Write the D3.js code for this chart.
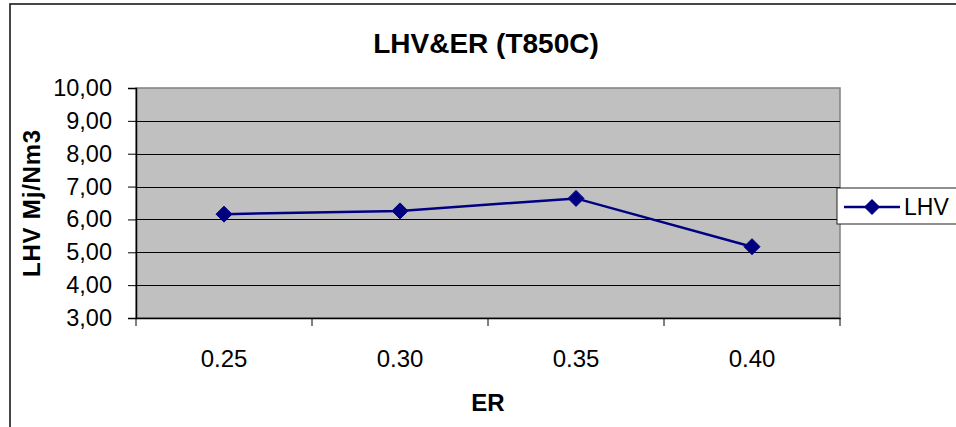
<!DOCTYPE html>
<html>
<head>
<meta charset="utf-8">
<script src="https://cdn.jsdelivr.net/npm/d3@7"></script>
<style>
  html, body { margin: 0; padding: 0; background: #fff; }
  svg { display: block; font-family: "Liberation Sans", Arial, sans-serif; }
</style>
</head>
<body>
<svg id="chart" width="956" height="427"></svg>
<script>
const categories = ["0.25", "0.30", "0.35", "0.40"];
const lhvValues = [6.16, 6.26, 6.64, 5.17];
const yTicks = [3, 4, 5, 6, 7, 8, 9, 10];
const seriesName = "LHV";
const chartTitle = "LHV&ER (T850C)";
const xTitle = "ER";
const yTitle = "LHV Mj/Nm3";

const svg = d3.select("#chart");
const plot = { left: 136, top: 88, right: 840, bottom: 318 };
const navy = "#000080";

// outer chart border
svg.append("rect").attr("x", 10).attr("y", 4).attr("width", 960).attr("height", 440)
  .attr("fill", "#fff").attr("stroke", "#1a1a1a").attr("stroke-width", 1.6);

const x = d3.scaleBand().domain(categories).range([plot.left, plot.right]).paddingInner(0).paddingOuter(0);
const y = d3.scaleLinear().domain([3, 10]).range([plot.bottom, plot.top]);

// plot background
svg.append("rect").attr("x", plot.left).attr("y", plot.top)
  .attr("width", plot.right - plot.left).attr("height", plot.bottom - plot.top)
  .attr("fill", "#c0c0c0").attr("stroke", "#808080").attr("stroke-width", 1.5);

// gridlines
svg.append("g").selectAll("line").data(yTicks.filter(d => d !== 3 && d !== 10)).join("line")
  .attr("x1", plot.left).attr("x2", plot.right)
  .attr("y1", d => Math.round(y(d)) + 0.5).attr("y2", d => Math.round(y(d)) + 0.5)
  .attr("stroke", "#000").attr("stroke-width", 1);

// y axis
const yAxis = d3.axisLeft(y).tickValues(yTicks).tickSize(8).tickPadding(16)
  .tickFormat(d => d3.format(".2f")(d).replace(".", ","));
const gy = svg.append("g").attr("transform", `translate(${plot.left},0)`).call(yAxis);
gy.select(".domain").attr("stroke", "#000").attr("stroke-width", 1.5);
gy.selectAll(".tick line").attr("stroke", "#000").attr("stroke-width", 1);
gy.selectAll(".tick text").attr("font-size", 23.5).attr("fill", "#000")
  .attr("font-family", "Liberation Sans, Arial, sans-serif");

// x axis with ticks at category boundaries
const xAxis = d3.axisBottom(x).tickSize(0).tickPadding(32);
const gx = svg.append("g").attr("transform", `translate(0,${plot.bottom})`).call(xAxis);
gx.select(".domain").attr("stroke", "#000").attr("stroke-width", 1.5);
gx.selectAll(".tick text").attr("font-size", 24).attr("fill", "#000")
  .attr("font-family", "Liberation Sans, Arial, sans-serif");
const boundaries = categories.map(c => x(c)).concat([x(categories[categories.length - 1]) + x.bandwidth()]);
svg.append("g").selectAll("line").data(boundaries).join("line")
  .attr("x1", d => d).attr("x2", d => d)
  .attr("y1", plot.bottom).attr("y2", plot.bottom + 8)
  .attr("stroke", "#000").attr("stroke-width", 1);

// line series
const cx = c => x(c) + x.bandwidth() / 2;
const line = d3.line().x((d, i) => cx(categories[i])).y(d => y(d));
svg.append("path").datum(lhvValues).attr("d", line)
  .attr("fill", "none").attr("stroke", navy).attr("stroke-width", 2.5);

const diamond = d3.symbol().type(d3.symbolDiamond2 || d3.symbolDiamond).size(150);
function diamondPath(cxv, cyv) {
  const w = 8, h = 8;
  return `M${cxv},${cyv - h}L${cxv + w},${cyv}L${cxv},${cyv + h}L${cxv - w},${cyv}Z`;
}
svg.append("g").selectAll("path").data(lhvValues).join("path")
  .attr("d", (d, i) => diamondPath(cx(categories[i]), y(d)))
  .attr("fill", navy).attr("stroke", navy).attr("stroke-width", 1);

// titles
svg.append("text").attr("x", 486).attr("y", 53).attr("text-anchor", "middle")
  .attr("font-size", 28).attr("font-weight", "bold").text(chartTitle);
svg.append("text").attr("x", 488).attr("y", 411).attr("text-anchor", "middle")
  .attr("font-size", 24).attr("font-weight", "bold").text(xTitle);
svg.append("text").attr("transform", "translate(40,203) rotate(-90)").attr("text-anchor", "middle")
  .attr("font-size", 24).attr("font-weight", "bold").attr("letter-spacing", 0.8).text(yTitle);

// legend
const lg = svg.append("g");
lg.append("rect").attr("x", 837).attr("y", 188).attr("width", 130).attr("height", 36)
  .attr("fill", "#fff").attr("stroke", "#222").attr("stroke-width", 1);
lg.append("line").attr("x1", 844).attr("x2", 900).attr("y1", 207).attr("y2", 207)
  .attr("stroke", navy).attr("stroke-width", 2.5);
lg.append("path").attr("d", diamondPath(872, 207)).attr("fill", navy);
lg.append("text").attr("x", 904).attr("y", 215).attr("font-size", 23).text(seriesName);
</script>
</body>
</html>
